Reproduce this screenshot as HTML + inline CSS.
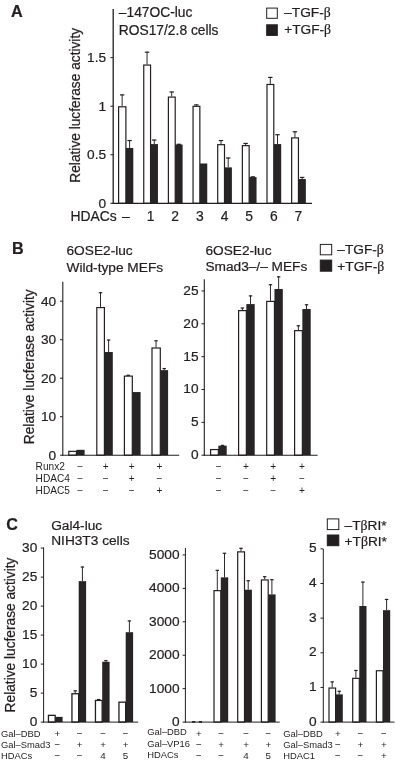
<!DOCTYPE html>
<html lang="en">
<head>
<meta charset="utf-8">
<title>Figure</title>
<style>
html,body{margin:0;padding:0;background:#fff;}
body{width:395px;height:762px;overflow:hidden;}
svg{display:block;font-family:"Liberation Sans",Arial,Helvetica,sans-serif;fill:#231f20;}
svg text{stroke:#231f20;stroke-width:0.22px;}
svg text.s{stroke:none;}
</style>
</head>
<body>
<svg width="395" height="762" viewBox="0 0 395 762">
<text x="11" y="16.8" font-size="16.2" font-weight="bold">A</text>
<text x="118.8" y="16.6" font-size="13.8">–147OC-luc</text>
<text x="118.8" y="34.8" font-size="13.8">ROS17/2.8 cells</text>
<text x="79.7" y="105.3" font-size="13.72" text-anchor="middle" textLength="154.8" lengthAdjust="spacingAndGlyphs" transform="rotate(-90 79.7 105.3)">Relative lucferase activity</text>
<rect x="266.7" y="8.1" width="10.6" height="10.2" fill="#fff" stroke="#231f20" stroke-width="1"/>
<rect x="266.7" y="24.8" width="10.6" height="10.6" fill="#231f20" stroke="#231f20" stroke-width="1"/>
<text x="284.2" y="16.9" font-size="13.7">–TGF-<tspan font-family="'Liberation Serif',serif">β</tspan></text>
<text x="284.2" y="34.2" font-size="13.7">+TGF-<tspan font-family="'Liberation Serif',serif">β</tspan></text>
<line x1="122.15" y1="106.2" x2="122.15" y2="94.55" stroke="#231f20" stroke-width="0.95"/>
<line x1="119.95" y1="94.9" x2="124.35" y2="94.9" stroke="#231f20" stroke-width="1.2"/>
<line x1="129.6" y1="147.95" x2="129.6" y2="140.19" stroke="#231f20" stroke-width="0.95"/>
<line x1="127.4" y1="140.54" x2="131.8" y2="140.54" stroke="#231f20" stroke-width="1.2"/>
<rect x="118.6" y="106.8" width="7.3" height="96.5" fill="#fff" stroke="#231f20" stroke-width="1.2"/>
<rect x="125.9" y="147.95" width="7.4" height="55.35" fill="#262425"/>
<line x1="147.05" y1="64.45" x2="147.05" y2="51.82" stroke="#231f20" stroke-width="0.95"/>
<line x1="144.85" y1="52.17" x2="149.25" y2="52.17" stroke="#231f20" stroke-width="1.2"/>
<line x1="154.25" y1="144.07" x2="154.25" y2="139.7" stroke="#231f20" stroke-width="0.95"/>
<line x1="152.05" y1="140.05" x2="156.45" y2="140.05" stroke="#231f20" stroke-width="1.2"/>
<rect x="143.75" y="65.05" width="6.8" height="138.25" fill="#fff" stroke="#231f20" stroke-width="1.2"/>
<rect x="150.55" y="144.07" width="7.4" height="59.23" fill="#262425"/>
<line x1="171.7" y1="96.49" x2="171.7" y2="91.64" stroke="#231f20" stroke-width="0.95"/>
<line x1="169.5" y1="91.98" x2="173.9" y2="91.98" stroke="#231f20" stroke-width="1.2"/>
<line x1="178.9" y1="144.55" x2="178.9" y2="143.97" stroke="#231f20" stroke-width="0.95"/>
<line x1="176.7" y1="144.32" x2="181.1" y2="144.32" stroke="#231f20" stroke-width="1.2"/>
<rect x="168.4" y="97.09" width="6.8" height="106.21" fill="#fff" stroke="#231f20" stroke-width="1.2"/>
<rect x="175.2" y="144.55" width="7.4" height="58.75" fill="#262425"/>
<line x1="196.35" y1="105.71" x2="196.35" y2="104.55" stroke="#231f20" stroke-width="0.95"/>
<line x1="194.15" y1="104.9" x2="198.55" y2="104.9" stroke="#231f20" stroke-width="1.2"/>
<rect x="193.05" y="106.31" width="6.8" height="96.99" fill="#fff" stroke="#231f20" stroke-width="1.2"/>
<rect x="199.85" y="163.49" width="7.4" height="39.81" fill="#262425"/>
<line x1="221" y1="144.07" x2="221" y2="140.19" stroke="#231f20" stroke-width="0.95"/>
<line x1="218.8" y1="140.54" x2="223.2" y2="140.54" stroke="#231f20" stroke-width="1.2"/>
<line x1="228.2" y1="167.37" x2="228.2" y2="157.66" stroke="#231f20" stroke-width="0.95"/>
<line x1="226" y1="158.01" x2="230.4" y2="158.01" stroke="#231f20" stroke-width="1.2"/>
<rect x="217.7" y="144.67" width="6.8" height="58.63" fill="#fff" stroke="#231f20" stroke-width="1.2"/>
<rect x="224.5" y="167.37" width="7.4" height="35.93" fill="#262425"/>
<line x1="245.65" y1="145.04" x2="245.65" y2="143.1" stroke="#231f20" stroke-width="0.95"/>
<line x1="243.45" y1="143.45" x2="247.85" y2="143.45" stroke="#231f20" stroke-width="1.2"/>
<line x1="252.85" y1="177.08" x2="252.85" y2="176.5" stroke="#231f20" stroke-width="0.95"/>
<line x1="250.65" y1="176.85" x2="255.05" y2="176.85" stroke="#231f20" stroke-width="1.2"/>
<rect x="242.35" y="145.64" width="6.8" height="57.66" fill="#fff" stroke="#231f20" stroke-width="1.2"/>
<rect x="249.15" y="177.08" width="7.4" height="26.22" fill="#262425"/>
<line x1="270.3" y1="83.87" x2="270.3" y2="77.07" stroke="#231f20" stroke-width="0.95"/>
<line x1="268.1" y1="77.42" x2="272.5" y2="77.42" stroke="#231f20" stroke-width="1.2"/>
<line x1="277.5" y1="144.07" x2="277.5" y2="134.36" stroke="#231f20" stroke-width="0.95"/>
<line x1="275.3" y1="134.71" x2="279.7" y2="134.71" stroke="#231f20" stroke-width="1.2"/>
<rect x="267" y="84.47" width="6.8" height="118.83" fill="#fff" stroke="#231f20" stroke-width="1.2"/>
<rect x="273.8" y="144.07" width="7.4" height="59.23" fill="#262425"/>
<line x1="294.95" y1="137.27" x2="294.95" y2="131.45" stroke="#231f20" stroke-width="0.95"/>
<line x1="292.75" y1="131.8" x2="297.15" y2="131.8" stroke="#231f20" stroke-width="1.2"/>
<line x1="302.15" y1="179.03" x2="302.15" y2="177.08" stroke="#231f20" stroke-width="0.95"/>
<line x1="299.95" y1="177.43" x2="304.35" y2="177.43" stroke="#231f20" stroke-width="1.2"/>
<rect x="291.65" y="137.87" width="6.8" height="65.43" fill="#fff" stroke="#231f20" stroke-width="1.2"/>
<rect x="298.45" y="179.03" width="7.4" height="24.28" fill="#262425"/>
<line x1="113.2" y1="9.1" x2="113.2" y2="203.95" stroke="#231f20" stroke-width="1.3"/>
<line x1="112.55" y1="203.3" x2="312" y2="203.3" stroke="#231f20" stroke-width="1.3"/>
<line x1="110.4" y1="203.3" x2="113.2" y2="203.3" stroke="#231f20" stroke-width="1"/>
<text x="106.1" y="208" font-size="13.7" text-anchor="end">0</text>
<line x1="110.4" y1="154.75" x2="113.2" y2="154.75" stroke="#231f20" stroke-width="1"/>
<text x="106.1" y="159.45" font-size="13.7" text-anchor="end">0.5</text>
<line x1="110.4" y1="106.2" x2="113.2" y2="106.2" stroke="#231f20" stroke-width="1"/>
<text x="106.1" y="110.9" font-size="13.7" text-anchor="end">1</text>
<line x1="110.4" y1="57.65" x2="113.2" y2="57.65" stroke="#231f20" stroke-width="1"/>
<text x="106.1" y="62.35" font-size="13.7" text-anchor="end">1.5</text>
<text x="70.4" y="221.2" font-size="13.9">HDACs</text>
<text x="125.9" y="221.2" font-size="13.9" text-anchor="middle">–</text>
<text x="150.55" y="221.2" font-size="13.9" text-anchor="middle">1</text>
<text x="175.2" y="221.2" font-size="13.9" text-anchor="middle">2</text>
<text x="199.85" y="221.2" font-size="13.9" text-anchor="middle">3</text>
<text x="224.5" y="221.2" font-size="13.9" text-anchor="middle">4</text>
<text x="249.15" y="221.2" font-size="13.9" text-anchor="middle">5</text>
<text x="273.8" y="221.2" font-size="13.9" text-anchor="middle">6</text>
<text x="298.45" y="221.2" font-size="13.9" text-anchor="middle">7</text>
<text x="12" y="254.2" font-size="16.2" font-weight="bold">B</text>
<text x="66.5" y="254.8" font-size="13.7">6OSE2-luc</text>
<text x="66.5" y="271.9" font-size="13.7">Wild-type MEFs</text>
<text x="205.4" y="254.6" font-size="13.7">6OSE2-luc</text>
<text x="205.4" y="271.3" font-size="13.7">Smad3–/– MEFs</text>
<rect x="320.3" y="244.4" width="11.4" height="10.4" fill="#fff" stroke="#231f20" stroke-width="1"/>
<rect x="320.3" y="260.1" width="11.4" height="11.1" fill="#231f20" stroke="#231f20" stroke-width="1"/>
<text x="337.3" y="254.2" font-size="13.7">–TGF-<tspan font-family="'Liberation Serif',serif">β</tspan></text>
<text x="337.3" y="270.6" font-size="13.7">+TGF-<tspan font-family="'Liberation Serif',serif">β</tspan></text>
<text x="33.9" y="366.8" font-size="13.72" text-anchor="middle" textLength="154.8" lengthAdjust="spacingAndGlyphs" transform="rotate(-90 33.9 366.8)">Relative lucferase activity</text>
<rect x="68.8" y="451.37" width="7.6" height="3.83" fill="#fff" stroke="#231f20" stroke-width="1.2"/>
<rect x="76.4" y="449.81" width="8.2" height="5.39" fill="#262425"/>
<line x1="100.5" y1="306.98" x2="100.5" y2="292.35" stroke="#231f20" stroke-width="0.95"/>
<line x1="98.8" y1="292.7" x2="102.2" y2="292.7" stroke="#231f20" stroke-width="1.2"/>
<line x1="108.6" y1="352.02" x2="108.6" y2="339.7" stroke="#231f20" stroke-width="0.95"/>
<line x1="106.9" y1="340.05" x2="110.3" y2="340.05" stroke="#231f20" stroke-width="1.2"/>
<rect x="96.8" y="307.58" width="7.6" height="147.62" fill="#fff" stroke="#231f20" stroke-width="1.2"/>
<rect x="104.4" y="352.02" width="8.4" height="103.18" fill="#262425"/>
<line x1="128.25" y1="375.5" x2="128.25" y2="374.93" stroke="#231f20" stroke-width="0.95"/>
<line x1="126.55" y1="375.28" x2="129.95" y2="375.28" stroke="#231f20" stroke-width="1.2"/>
<rect x="124.4" y="376.11" width="7.9" height="79.09" fill="#fff" stroke="#231f20" stroke-width="1.2"/>
<rect x="132.3" y="392.06" width="8.3" height="63.14" fill="#262425"/>
<line x1="156.05" y1="347.4" x2="156.05" y2="340.47" stroke="#231f20" stroke-width="0.95"/>
<line x1="154.35" y1="340.82" x2="157.75" y2="340.82" stroke="#231f20" stroke-width="1.2"/>
<line x1="164.2" y1="370.12" x2="164.2" y2="368.19" stroke="#231f20" stroke-width="0.95"/>
<line x1="162.5" y1="368.54" x2="165.9" y2="368.54" stroke="#231f20" stroke-width="1.2"/>
<rect x="152" y="348" width="8.3" height="107.2" fill="#fff" stroke="#231f20" stroke-width="1.2"/>
<rect x="160.3" y="370.12" width="7.8" height="85.08" fill="#262425"/>
<line x1="62.8" y1="281.8" x2="62.8" y2="455.75" stroke="#231f20" stroke-width="1.1"/>
<line x1="62.25" y1="455.2" x2="179.2" y2="455.2" stroke="#231f20" stroke-width="1.1"/>
<line x1="60" y1="455.2" x2="62.8" y2="455.2" stroke="#231f20" stroke-width="1"/>
<text x="56.2" y="459.8" font-size="13.7" text-anchor="end">0</text>
<line x1="60" y1="416.7" x2="62.8" y2="416.7" stroke="#231f20" stroke-width="1"/>
<text x="56.2" y="421.3" font-size="13.7" text-anchor="end">10</text>
<line x1="60" y1="378.2" x2="62.8" y2="378.2" stroke="#231f20" stroke-width="1"/>
<text x="56.2" y="382.8" font-size="13.7" text-anchor="end">20</text>
<line x1="60" y1="339.7" x2="62.8" y2="339.7" stroke="#231f20" stroke-width="1"/>
<text x="56.2" y="344.3" font-size="13.7" text-anchor="end">30</text>
<line x1="60" y1="301.2" x2="62.8" y2="301.2" stroke="#231f20" stroke-width="1"/>
<text x="56.2" y="305.8" font-size="13.7" text-anchor="end">40</text>
<line x1="222.53" y1="445.67" x2="222.53" y2="445.02" stroke="#231f20" stroke-width="0.95"/>
<line x1="220.83" y1="445.37" x2="224.22" y2="445.37" stroke="#231f20" stroke-width="1.2"/>
<rect x="210.6" y="449.56" width="7.75" height="5.64" fill="#fff" stroke="#231f20" stroke-width="1.2"/>
<rect x="218.35" y="445.67" width="8.35" height="9.53" fill="#262425"/>
<line x1="242.38" y1="310" x2="242.38" y2="307.7" stroke="#231f20" stroke-width="0.95"/>
<line x1="240.68" y1="308.05" x2="244.07" y2="308.05" stroke="#231f20" stroke-width="1.2"/>
<line x1="250.53" y1="304.09" x2="250.53" y2="295.55" stroke="#231f20" stroke-width="0.95"/>
<line x1="248.83" y1="295.9" x2="252.22" y2="295.9" stroke="#231f20" stroke-width="1.2"/>
<rect x="238.6" y="310.6" width="7.75" height="144.6" fill="#fff" stroke="#231f20" stroke-width="1.2"/>
<rect x="246.35" y="304.09" width="8.35" height="151.11" fill="#262425"/>
<line x1="270.48" y1="300.8" x2="270.48" y2="284.38" stroke="#231f20" stroke-width="0.95"/>
<line x1="268.78" y1="284.73" x2="272.18" y2="284.73" stroke="#231f20" stroke-width="1.2"/>
<line x1="278.63" y1="288.98" x2="278.63" y2="276.5" stroke="#231f20" stroke-width="0.95"/>
<line x1="276.93" y1="276.85" x2="280.33" y2="276.85" stroke="#231f20" stroke-width="1.2"/>
<rect x="266.7" y="301.4" width="7.75" height="153.8" fill="#fff" stroke="#231f20" stroke-width="1.2"/>
<rect x="274.45" y="288.98" width="8.35" height="166.22" fill="#262425"/>
<line x1="298.38" y1="330.04" x2="298.38" y2="325.44" stroke="#231f20" stroke-width="0.95"/>
<line x1="296.68" y1="325.79" x2="300.07" y2="325.79" stroke="#231f20" stroke-width="1.2"/>
<line x1="306.53" y1="309.02" x2="306.53" y2="304.42" stroke="#231f20" stroke-width="0.95"/>
<line x1="304.83" y1="304.77" x2="308.23" y2="304.77" stroke="#231f20" stroke-width="1.2"/>
<rect x="294.6" y="330.64" width="7.75" height="124.56" fill="#fff" stroke="#231f20" stroke-width="1.2"/>
<rect x="302.35" y="309.02" width="8.35" height="146.18" fill="#262425"/>
<line x1="204.3" y1="279.3" x2="204.3" y2="455.75" stroke="#231f20" stroke-width="1.1"/>
<line x1="203.75" y1="455.2" x2="317.6" y2="455.2" stroke="#231f20" stroke-width="1.1"/>
<line x1="201.5" y1="455.2" x2="204.3" y2="455.2" stroke="#231f20" stroke-width="1"/>
<text x="198.5" y="459.1" font-size="13.7" text-anchor="end">0</text>
<line x1="201.5" y1="422.35" x2="204.3" y2="422.35" stroke="#231f20" stroke-width="1"/>
<text x="198.5" y="426.25" font-size="13.7" text-anchor="end">5</text>
<line x1="201.5" y1="389.5" x2="204.3" y2="389.5" stroke="#231f20" stroke-width="1"/>
<text x="198.5" y="393.4" font-size="13.7" text-anchor="end">10</text>
<line x1="201.5" y1="356.65" x2="204.3" y2="356.65" stroke="#231f20" stroke-width="1"/>
<text x="198.5" y="360.55" font-size="13.7" text-anchor="end">15</text>
<line x1="201.5" y1="323.8" x2="204.3" y2="323.8" stroke="#231f20" stroke-width="1"/>
<text x="198.5" y="327.7" font-size="13.7" text-anchor="end">20</text>
<line x1="201.5" y1="290.95" x2="204.3" y2="290.95" stroke="#231f20" stroke-width="1"/>
<text x="198.5" y="294.85" font-size="13.7" text-anchor="end">25</text>
<text x="35.6" y="469.8" font-size="10.15" class="s">Runx2</text>
<text x="80.3" y="470.2" font-size="10.15" text-anchor="middle" class="s">−</text>
<text x="105.7" y="470.2" font-size="10.15" text-anchor="middle" class="s">+</text>
<text x="131.8" y="470.2" font-size="10.15" text-anchor="middle" class="s">+</text>
<text x="159.5" y="470.2" font-size="10.15" text-anchor="middle" class="s">+</text>
<text x="35.6" y="481.7" font-size="10.15" class="s">HDAC4</text>
<text x="80.3" y="482.1" font-size="10.15" text-anchor="middle" class="s">−</text>
<text x="105.7" y="482.1" font-size="10.15" text-anchor="middle" class="s">−</text>
<text x="131.8" y="482.1" font-size="10.15" text-anchor="middle" class="s">+</text>
<text x="159.5" y="482.1" font-size="10.15" text-anchor="middle" class="s">−</text>
<text x="35.6" y="493.6" font-size="10.15" class="s">HDAC5</text>
<text x="80.3" y="494" font-size="10.15" text-anchor="middle" class="s">−</text>
<text x="105.7" y="494" font-size="10.15" text-anchor="middle" class="s">−</text>
<text x="131.8" y="494" font-size="10.15" text-anchor="middle" class="s">−</text>
<text x="159.5" y="494" font-size="10.15" text-anchor="middle" class="s">+</text>
<text x="218.7" y="470.2" font-size="10.15" text-anchor="middle" class="s">−</text>
<text x="246" y="470.2" font-size="10.15" text-anchor="middle" class="s">+</text>
<text x="273.3" y="470.2" font-size="10.15" text-anchor="middle" class="s">+</text>
<text x="302" y="470.2" font-size="10.15" text-anchor="middle" class="s">+</text>
<text x="218.7" y="482.1" font-size="10.15" text-anchor="middle" class="s">−</text>
<text x="246" y="482.1" font-size="10.15" text-anchor="middle" class="s">−</text>
<text x="273.3" y="482.1" font-size="10.15" text-anchor="middle" class="s">+</text>
<text x="302" y="482.1" font-size="10.15" text-anchor="middle" class="s">−</text>
<text x="218.7" y="494" font-size="10.15" text-anchor="middle" class="s">−</text>
<text x="246" y="494" font-size="10.15" text-anchor="middle" class="s">−</text>
<text x="273.3" y="494" font-size="10.15" text-anchor="middle" class="s">−</text>
<text x="302" y="494" font-size="10.15" text-anchor="middle" class="s">+</text>
<text x="6.2" y="530.3" font-size="16.2" font-weight="bold">C</text>
<text x="51.2" y="530.3" font-size="13.7">Gal4-luc</text>
<text x="51.2" y="545.4" font-size="13.7">NIH3T3 cells</text>
<text x="14.6" y="635" font-size="13.72" text-anchor="middle" textLength="154.8" lengthAdjust="spacingAndGlyphs" transform="rotate(-90 14.6 635)">Relative lucferase activity</text>
<rect x="327.3" y="518.9" width="11.5" height="10.7" fill="#fff" stroke="#231f20" stroke-width="1"/>
<rect x="327.3" y="535" width="11.5" height="10.7" fill="#231f20" stroke="#231f20" stroke-width="1"/>
<text x="344.6" y="529.6" font-size="13.7">–T<tspan font-family="'Liberation Serif',serif">β</tspan>RI*</text>
<text x="344.6" y="545.8" font-size="13.7">+T<tspan font-family="'Liberation Serif',serif">β</tspan>RI*</text>
<rect x="48.45" y="715.33" width="6.7" height="6.77" fill="#fff" stroke="#231f20" stroke-width="1.3"/>
<rect x="55.2" y="716.88" width="7.4" height="5.22" fill="#262425"/>
<line x1="75.2" y1="693.1" x2="75.2" y2="690.49" stroke="#231f20" stroke-width="0.95"/>
<line x1="73.5" y1="690.84" x2="76.9" y2="690.84" stroke="#231f20" stroke-width="1.2"/>
<line x1="82.4" y1="581.16" x2="82.4" y2="566.66" stroke="#231f20" stroke-width="0.95"/>
<line x1="80.7" y1="567.01" x2="84.1" y2="567.01" stroke="#231f20" stroke-width="1.2"/>
<rect x="71.95" y="693.75" width="6.7" height="28.35" fill="#fff" stroke="#231f20" stroke-width="1.3"/>
<rect x="78.7" y="581.16" width="7.4" height="140.94" fill="#262425"/>
<line x1="98.7" y1="699.77" x2="98.7" y2="699.19" stroke="#231f20" stroke-width="0.95"/>
<line x1="97" y1="699.54" x2="100.4" y2="699.54" stroke="#231f20" stroke-width="1.2"/>
<line x1="105.9" y1="661.78" x2="105.9" y2="660.33" stroke="#231f20" stroke-width="0.95"/>
<line x1="104.2" y1="660.68" x2="107.6" y2="660.68" stroke="#231f20" stroke-width="1.2"/>
<rect x="95.45" y="700.42" width="6.7" height="21.68" fill="#fff" stroke="#231f20" stroke-width="1.3"/>
<rect x="102.2" y="661.78" width="7.4" height="60.32" fill="#262425"/>
<line x1="129.4" y1="632.2" x2="129.4" y2="620.6" stroke="#231f20" stroke-width="0.95"/>
<line x1="127.7" y1="620.95" x2="131.1" y2="620.95" stroke="#231f20" stroke-width="1.2"/>
<rect x="118.95" y="702.16" width="6.7" height="19.94" fill="#fff" stroke="#231f20" stroke-width="1.3"/>
<rect x="125.7" y="632.2" width="7.4" height="89.9" fill="#262425"/>
<line x1="43.6" y1="547.4" x2="43.6" y2="722.6" stroke="#231f20" stroke-width="1"/>
<line x1="43.1" y1="722.1" x2="138.2" y2="722.1" stroke="#231f20" stroke-width="1"/>
<line x1="40.8" y1="722.1" x2="43.6" y2="722.1" stroke="#231f20" stroke-width="1"/>
<text x="37.3" y="726" font-size="13.7" text-anchor="end">0</text>
<line x1="40.8" y1="693.1" x2="43.6" y2="693.1" stroke="#231f20" stroke-width="1"/>
<text x="37.3" y="697" font-size="13.7" text-anchor="end">5</text>
<line x1="40.8" y1="664.1" x2="43.6" y2="664.1" stroke="#231f20" stroke-width="1"/>
<text x="37.3" y="668" font-size="13.7" text-anchor="end">10</text>
<line x1="40.8" y1="635.1" x2="43.6" y2="635.1" stroke="#231f20" stroke-width="1"/>
<text x="37.3" y="639" font-size="13.7" text-anchor="end">15</text>
<line x1="40.8" y1="606.1" x2="43.6" y2="606.1" stroke="#231f20" stroke-width="1"/>
<text x="37.3" y="610" font-size="13.7" text-anchor="end">20</text>
<line x1="40.8" y1="577.1" x2="43.6" y2="577.1" stroke="#231f20" stroke-width="1"/>
<text x="37.3" y="581" font-size="13.7" text-anchor="end">25</text>
<line x1="40.8" y1="548.1" x2="43.6" y2="548.1" stroke="#231f20" stroke-width="1"/>
<text x="37.3" y="552" font-size="13.7" text-anchor="end">30</text>
<line x1="217.3" y1="590.05" x2="217.3" y2="569.99" stroke="#231f20" stroke-width="0.95"/>
<line x1="215.6" y1="570.34" x2="219" y2="570.34" stroke="#231f20" stroke-width="1.2"/>
<line x1="224.5" y1="577.35" x2="224.5" y2="552.94" stroke="#231f20" stroke-width="0.95"/>
<line x1="222.8" y1="553.29" x2="226.2" y2="553.29" stroke="#231f20" stroke-width="1.2"/>
<rect x="214" y="590.65" width="6.8" height="131.45" fill="#fff" stroke="#231f20" stroke-width="1.2"/>
<rect x="220.8" y="577.35" width="7.4" height="144.75" fill="#262425"/>
<line x1="241" y1="551.27" x2="241" y2="547.93" stroke="#231f20" stroke-width="0.95"/>
<line x1="239.3" y1="548.28" x2="242.7" y2="548.28" stroke="#231f20" stroke-width="1.2"/>
<line x1="248.2" y1="589.72" x2="248.2" y2="580.36" stroke="#231f20" stroke-width="0.95"/>
<line x1="246.5" y1="580.71" x2="249.9" y2="580.71" stroke="#231f20" stroke-width="1.2"/>
<rect x="237.7" y="551.87" width="6.8" height="170.23" fill="#fff" stroke="#231f20" stroke-width="1.2"/>
<rect x="244.5" y="589.72" width="7.4" height="132.38" fill="#262425"/>
<line x1="264.7" y1="579.35" x2="264.7" y2="576.35" stroke="#231f20" stroke-width="0.95"/>
<line x1="263" y1="576.7" x2="266.4" y2="576.7" stroke="#231f20" stroke-width="1.2"/>
<line x1="271.9" y1="594.4" x2="271.9" y2="579.35" stroke="#231f20" stroke-width="0.95"/>
<line x1="270.2" y1="579.7" x2="273.6" y2="579.7" stroke="#231f20" stroke-width="1.2"/>
<rect x="261.4" y="579.95" width="6.8" height="142.15" fill="#fff" stroke="#231f20" stroke-width="1.2"/>
<rect x="268.2" y="594.4" width="7.4" height="127.7" fill="#262425"/>
<line x1="185.4" y1="547.9" x2="185.4" y2="722.6" stroke="#231f20" stroke-width="1"/>
<line x1="184.9" y1="722.1" x2="279.7" y2="722.1" stroke="#231f20" stroke-width="1"/>
<line x1="182.6" y1="722.1" x2="185.4" y2="722.1" stroke="#231f20" stroke-width="1"/>
<text x="179.5" y="726.2" font-size="13.7" text-anchor="end">0</text>
<line x1="182.6" y1="688.67" x2="185.4" y2="688.67" stroke="#231f20" stroke-width="1"/>
<text x="179.5" y="692.77" font-size="13.7" text-anchor="end">1000</text>
<line x1="182.6" y1="655.24" x2="185.4" y2="655.24" stroke="#231f20" stroke-width="1"/>
<text x="179.5" y="659.34" font-size="13.7" text-anchor="end">2000</text>
<line x1="182.6" y1="621.81" x2="185.4" y2="621.81" stroke="#231f20" stroke-width="1"/>
<text x="179.5" y="625.91" font-size="13.7" text-anchor="end">3000</text>
<line x1="182.6" y1="588.38" x2="185.4" y2="588.38" stroke="#231f20" stroke-width="1"/>
<text x="179.5" y="592.48" font-size="13.7" text-anchor="end">4000</text>
<line x1="182.6" y1="554.95" x2="185.4" y2="554.95" stroke="#231f20" stroke-width="1"/>
<text x="179.5" y="559.05" font-size="13.7" text-anchor="end">5000</text>
<line x1="332.2" y1="687.45" x2="332.2" y2="681.56" stroke="#231f20" stroke-width="0.95"/>
<line x1="330.5" y1="681.91" x2="333.9" y2="681.91" stroke="#231f20" stroke-width="1.2"/>
<line x1="339.2" y1="694.38" x2="339.2" y2="690.91" stroke="#231f20" stroke-width="0.95"/>
<line x1="337.5" y1="691.26" x2="340.9" y2="691.26" stroke="#231f20" stroke-width="1.2"/>
<rect x="329" y="688.05" width="6.6" height="34.05" fill="#fff" stroke="#231f20" stroke-width="1.2"/>
<rect x="335.6" y="694.38" width="7.2" height="27.72" fill="#262425"/>
<line x1="355.9" y1="677.75" x2="355.9" y2="670.12" stroke="#231f20" stroke-width="0.95"/>
<line x1="354.2" y1="670.48" x2="357.6" y2="670.48" stroke="#231f20" stroke-width="1.2"/>
<line x1="362.9" y1="606.02" x2="362.9" y2="581.77" stroke="#231f20" stroke-width="0.95"/>
<line x1="361.2" y1="582.12" x2="364.6" y2="582.12" stroke="#231f20" stroke-width="1.2"/>
<rect x="352.7" y="678.35" width="6.6" height="43.75" fill="#fff" stroke="#231f20" stroke-width="1.2"/>
<rect x="359.3" y="606.02" width="7.2" height="116.08" fill="#262425"/>
<line x1="386.6" y1="610.18" x2="386.6" y2="599.09" stroke="#231f20" stroke-width="0.95"/>
<line x1="384.9" y1="599.44" x2="388.3" y2="599.44" stroke="#231f20" stroke-width="1.2"/>
<rect x="376.4" y="670.73" width="6.6" height="51.38" fill="#fff" stroke="#231f20" stroke-width="1.2"/>
<rect x="383" y="610.18" width="7.2" height="111.92" fill="#262425"/>
<line x1="323.3" y1="549" x2="323.3" y2="722.6" stroke="#231f20" stroke-width="1"/>
<line x1="322.8" y1="722.1" x2="394.5" y2="722.1" stroke="#231f20" stroke-width="1"/>
<line x1="320.5" y1="722.1" x2="323.3" y2="722.1" stroke="#231f20" stroke-width="1"/>
<text x="316.5" y="725.7" font-size="13.7" text-anchor="end">0</text>
<line x1="320.5" y1="687.45" x2="323.3" y2="687.45" stroke="#231f20" stroke-width="1"/>
<text x="316.5" y="691.05" font-size="13.7" text-anchor="end">1</text>
<line x1="320.5" y1="652.8" x2="323.3" y2="652.8" stroke="#231f20" stroke-width="1"/>
<text x="316.5" y="656.4" font-size="13.7" text-anchor="end">2</text>
<line x1="320.5" y1="618.15" x2="323.3" y2="618.15" stroke="#231f20" stroke-width="1"/>
<text x="316.5" y="621.75" font-size="13.7" text-anchor="end">3</text>
<line x1="320.5" y1="583.5" x2="323.3" y2="583.5" stroke="#231f20" stroke-width="1"/>
<text x="316.5" y="587.1" font-size="13.7" text-anchor="end">4</text>
<line x1="320.5" y1="548.85" x2="323.3" y2="548.85" stroke="#231f20" stroke-width="1"/>
<text x="316.5" y="552.45" font-size="13.7" text-anchor="end">5</text>
<line x1="192.1" y1="721.9" x2="195.3" y2="721.9" stroke="#231f20" stroke-width="1.7"/>
<line x1="198.8" y1="721.9" x2="202" y2="721.9" stroke="#231f20" stroke-width="1.7"/>
<text x="0.9" y="736.9" font-size="9.4" class="s">Gal–DBD</text>
<text x="57.3" y="737.3" font-size="9.8" text-anchor="middle" class="s">+</text>
<text x="79.5" y="737.3" font-size="9.8" text-anchor="middle" class="s">−</text>
<text x="103" y="737.3" font-size="9.8" text-anchor="middle" class="s">−</text>
<text x="125.5" y="737.3" font-size="9.8" text-anchor="middle" class="s">−</text>
<text x="0.9" y="748.1" font-size="9.4" class="s">Gal–Smad3</text>
<text x="57.3" y="748.1" font-size="9.8" text-anchor="middle" class="s">−</text>
<text x="79.5" y="748.1" font-size="9.8" text-anchor="middle" class="s">+</text>
<text x="103" y="748.1" font-size="9.8" text-anchor="middle" class="s">+</text>
<text x="125.5" y="748.1" font-size="9.8" text-anchor="middle" class="s">+</text>
<text x="0.9" y="758.7" font-size="9.4" class="s">HDACs</text>
<text x="57.3" y="758.7" font-size="9.8" text-anchor="middle" class="s">−</text>
<text x="79.5" y="758.7" font-size="9.8" text-anchor="middle" class="s">−</text>
<text x="103" y="758.7" font-size="9.8" text-anchor="middle" class="s">4</text>
<text x="125.5" y="758.7" font-size="9.8" text-anchor="middle" class="s">5</text>
<text x="147.3" y="735.3" font-size="9.4" class="s">Gal–DBD</text>
<text x="198.8" y="737.4" font-size="9.8" text-anchor="middle" class="s">+</text>
<text x="221" y="737.4" font-size="9.8" text-anchor="middle" class="s">−</text>
<text x="246" y="737.4" font-size="9.8" text-anchor="middle" class="s">−</text>
<text x="268.3" y="737.4" font-size="9.8" text-anchor="middle" class="s">−</text>
<text x="147.3" y="746.8" font-size="9.4" class="s">Gal–VP16</text>
<text x="198.8" y="747.7" font-size="9.8" text-anchor="middle" class="s">−</text>
<text x="221" y="747.7" font-size="9.8" text-anchor="middle" class="s">+</text>
<text x="246" y="747.7" font-size="9.8" text-anchor="middle" class="s">+</text>
<text x="268.3" y="747.7" font-size="9.8" text-anchor="middle" class="s">+</text>
<text x="147.3" y="758" font-size="9.4" class="s">HDACs</text>
<text x="198.8" y="758.9" font-size="9.8" text-anchor="middle" class="s">−</text>
<text x="221" y="758.9" font-size="9.8" text-anchor="middle" class="s">−</text>
<text x="246" y="758.9" font-size="9.8" text-anchor="middle" class="s">4</text>
<text x="268.3" y="758.9" font-size="9.8" text-anchor="middle" class="s">5</text>
<text x="283.2" y="736.9" font-size="9.4" class="s">Gal–DBD</text>
<text x="337.9" y="737.3" font-size="9.8" text-anchor="middle" class="s">+</text>
<text x="360.3" y="737.3" font-size="9.8" text-anchor="middle" class="s">−</text>
<text x="383.8" y="737.3" font-size="9.8" text-anchor="middle" class="s">−</text>
<text x="283.2" y="747.9" font-size="9.4" class="s">Gal–Smad3</text>
<text x="337.9" y="747.9" font-size="9.8" text-anchor="middle" class="s">−</text>
<text x="360.3" y="747.9" font-size="9.8" text-anchor="middle" class="s">+</text>
<text x="383.8" y="747.9" font-size="9.8" text-anchor="middle" class="s">+</text>
<text x="283.2" y="759" font-size="9.4" class="s">HDAC1</text>
<text x="337.9" y="759" font-size="9.8" text-anchor="middle" class="s">−</text>
<text x="360.3" y="759" font-size="9.8" text-anchor="middle" class="s">−</text>
<text x="383.8" y="759" font-size="9.8" text-anchor="middle" class="s">+</text>
</svg>
</body>
</html>
